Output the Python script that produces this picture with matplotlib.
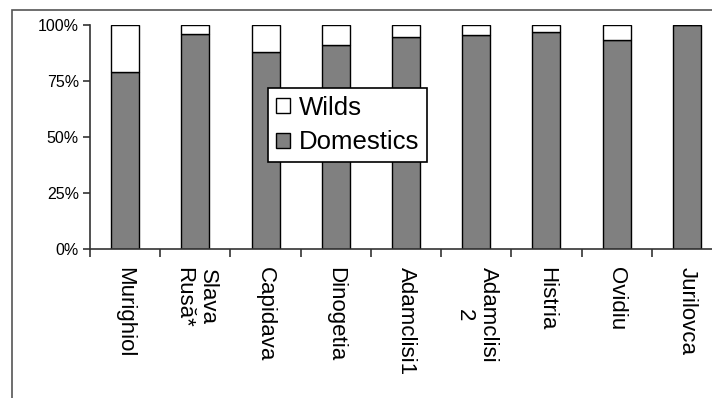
import matplotlib
matplotlib.use('Agg')
import matplotlib.pyplot as plt
import matplotlib.ticker as ticker
from matplotlib.patches import Rectangle
import numpy as np

# sites and share of domestic animals (%), wilds make up the rest
sites = ['Murighiol', 'Slava\nRusă*', 'Capidava', 'Dinogetia', 'Adamclisi1',
         'Adamclisi\n2', 'Histria', 'Ovidiu', 'Jurilovca']
domestics = [79, 96, 88, 91, 94.5, 95.5, 97, 93.5, 100]
wilds = [100 - d for d in domestics]

plt.rcParams['font.family'] = ['Liberation Sans', 'DejaVu Sans']

W, H = 712, 398
fig = plt.figure(figsize=(W / 100, H / 100), dpi=100)

# outer chart-area frame (cropped on the right and bottom)
fig.patches.append(Rectangle((12 / W, -0.2), 1.2, 1.2 - 10 / H,
                             transform=fig.transFigure, fill=False,
                             edgecolor='#555555', linewidth=1.2))

ax = fig.add_axes([90 / W, 1 - 249 / H, 632 / W, 224 / H])

x = np.arange(len(sites))
ax.bar(x, domestics, width=0.4, color='#808080', edgecolor='black',
       linewidth=1.0, label='Domestics')
ax.bar(x, wilds, width=0.4, bottom=domestics, color='white',
       edgecolor='black', linewidth=1.0, label='Wilds')

ax.set_xlim(-0.5, len(sites) - 0.5)
ax.set_ylim(0, 100)
ax.set_yticks([0, 25, 50, 75, 100])
ax.yaxis.set_major_formatter(ticker.FuncFormatter(lambda v, p: f'{v:.0f}%'))

ax.set_xticks(x)
ax.set_xticklabels(sites, rotation=270, fontsize=16, ha='center',
                   va='top', multialignment='center')
ax.set_xticks(np.arange(len(sites) + 1) - 0.5, minor=True)
ax.tick_params(axis='x', which='major', length=0, pad=13)
ax.tick_params(axis='x', which='minor', length=6, width=1.2, color='#333333')
ax.tick_params(axis='y', length=5, width=1.2, color='#333333',
               labelsize=11.5, pad=3)

for side in ('top', 'right'):
    ax.spines[side].set_visible(False)
for side in ('left', 'bottom'):
    ax.spines[side].set_color('#333333')
    ax.spines[side].set_linewidth(1.2)

handles, labels = ax.get_legend_handles_labels()
leg = ax.legend(handles[::-1], labels[::-1], loc='upper left',
                bbox_to_anchor=(268 / W, 1 - 88 / H),
                bbox_transform=fig.transFigure, fontsize=18.5,
                fancybox=False, framealpha=1, edgecolor='black',
                handlelength=0.55, handleheight=0.55, handletextpad=0.35,
                borderpad=0.3, labelspacing=0.42, borderaxespad=0)
leg.get_frame().set_linewidth(1.2)

fig.savefig('out.png', dpi=100)
